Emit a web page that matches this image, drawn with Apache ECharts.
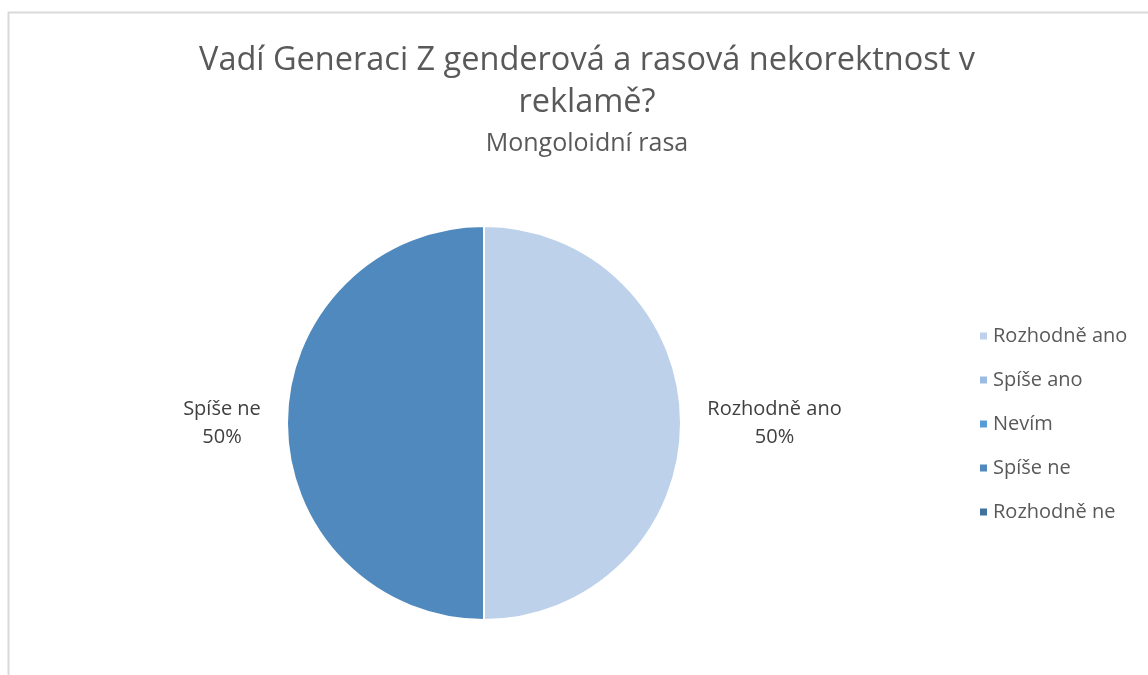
<!DOCTYPE html>
<html>
<head>
<meta charset="utf-8">
<script src="https://cdn.jsdelivr.net/npm/echarts@6/dist/echarts.min.js"></script>
<style>html,body{margin:0;padding:0;background:#fff}#c{width:1148px;height:675px}</style>
</head>
<body>
<div id="c"></div>
<script>
const categories = ['Rozhodně ano', 'Spíše ano', 'Nevím', 'Spíše ne', 'Rozhodně ne'];
const values = [1, 0, 0, 1, 0];
const colors = ['#BDD1EA', '#9CBBE1', '#5B9BD5', '#4F89BD', '#41719C'];
const titleText = 'Vadí Generaci Z genderová a rasová nekorektnost v\nreklamě?';
const subtitleText = 'Mongoloidní rasa';

const font = '"Open Sans", "Noto Sans", sans-serif';
const labelSize = 20;
const cv = document.createElement('canvas').getContext('2d');
cv.font = labelSize + 'px "Open Sans"';
const measure = s => Math.ceil(cv.measureText(s).width);

const chart = echarts.init(document.getElementById('c'), null, {renderer: 'canvas'});
chart.setOption({
  backgroundColor: '#fff',
  animation: false,
  color: colors,
  graphic: [{
    type: 'rect', left: 6, top: 10, silent: true,
    shape: {width: 1200, height: 720},
    style: {fill: 'none', stroke: '#d9d9d9', lineWidth: 2}
  }],
  title: {
    text: titleText,
    subtext: subtitleText,
    left: 582, top: 35, textAlign: 'center',
    itemGap: 7,
    textStyle: {fontFamily: font, fontSize: 32.5, fontWeight: 'normal', color: '#595959', lineHeight: 42},
    subtextStyle: {fontFamily: font, fontSize: 25, color: '#595959'}
  },
  legend: {
    orient: 'vertical', left: 973, top: 321,
    icon: 'rect', itemWidth: 9, itemHeight: 9, itemGap: 24,
    textStyle: {fontFamily: font, fontSize: labelSize, color: '#595959'},
    data: categories
  },
  series: [{
    type: 'pie',
    center: [484, 423],
    radius: [0, 197],
    startAngle: 90,
    clockwise: true,
    minShowLabelAngle: 1,
    itemStyle: {borderColor: '#fff', borderWidth: 2},
    label: {
      show: true, position: 'outside',
      fontFamily: font, fontSize: labelSize, color: '#404040', lineHeight: 28,
      formatter: p => '{a|' + p.name + '}\n{a|' + Math.round(p.percent) + '%}'
    },
    labelLine: {show: false, length: 21, length2: 0},
    emphasis: {disabled: true},
    data: categories.map((n, i) => ({
      name: n, value: values[i],
      label: {rich: {a: {width: measure(n), align: 'center', fontFamily: font, fontSize: labelSize, color: '#404040', lineHeight: 28}}}
    }))
  }]
});
</script>
</body>
</html>
